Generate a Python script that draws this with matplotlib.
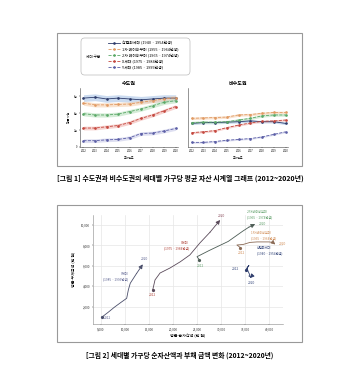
import matplotlib
matplotlib.use('Agg')
import matplotlib.pyplot as plt
from matplotlib.patches import Rectangle, FancyBboxPatch
from matplotlib.lines import Line2D

plt.rcParams['font.family'] = ['Noto Sans CJK KR', 'DejaVu Sans']

# 데이터
years = list(range(2012, 2021))
gen_labels = ['산업화세대 (1940 ~ 1954년생)', '1차 베이비부머 (1955 ~ 1964년생)',
              '2차 베이비부머 (1965 ~ 1974년생)', 'X세대 (1975 ~ 1984년생)',
              'Y세대 (1985 ~ 1995년생)']

# 수도권 평균 자산 (억 원)
cap_industrial = [5.8, 5.9, 5.7, 5.8, 5.7, 5.6, 5.7, 5.8, 5.8]
cap_boomer1 = [5.2, 5.0, 5.0, 5.05, 5.1, 5.3, 5.5, 5.7, 5.85]
cap_boomer2 = [3.95, 3.8, 3.8, 3.9, 4.2, 4.5, 4.9, 5.3, 5.5]
cap_x = [2.25, 2.25, 2.4, 2.55, 2.9, 3.4, 3.8, 4.3, 4.8]
cap_y = [0.75, 0.75, 0.85, 0.9, 1.1, 1.6, 1.65, 1.9, 2.2]
cap_ci = [0.4, 0.25, 0.25, 0.22, 0.22]

# 비수도권 평균 자산 (억 원)
non_industrial = [2.8, 2.9, 2.9, 2.95, 3.0, 3.1, 3.0, 3.0, 2.8]
non_boomer1 = [3.4, 3.45, 3.5, 3.55, 3.8, 3.85, 4.0, 4.1, 4.1]
non_boomer2 = [2.9, 2.95, 2.95, 3.0, 3.2, 3.4, 3.7, 3.8, 3.8]
non_x = [1.7, 1.8, 1.95, 2.3, 2.6, 2.85, 3.05, 3.1, 3.2]
non_y = [0.55, 0.55, 0.65, 0.8, 0.9, 1.0, 1.2, 1.5, 1.8]
non_ci = [0.15, 0.15, 0.15, 0.12, 0.1]

y_ticks = [0, 2, 4, 6]
y_ticklabels = ['0', '2억', '4억', '6억']

# 순자산액 / 부채 (만 원)
net_ind = [35200, 35800, 35400, 35600, 35800, 36000, 35800, 36200, 36000]
debt_ind = [5600, 6050, 5800, 5500, 5300, 5100, 5000, 4900, 4800]
net_b1 = [34000, 33300, 34600, 36000, 37500, 38800, 40000, 40800, 41300]
debt_b1 = [7800, 8050, 8100, 8300, 8350, 8350, 8350, 8300, 8100]
net_b2 = [25500, 25000, 27500, 29500, 31500, 33000, 34500, 35800, 37100]
debt_b2 = [6580, 6900, 7500, 7950, 8400, 8900, 9400, 9800, 10100]
net_x = [15770, 16250, 17300, 19400, 21500, 23500, 25600, 27700, 29800]
debt_x = [3640, 4620, 5300, 5800, 6400, 7070, 8250, 9300, 10500]
net_y = [5150, 6500, 7800, 9100, 10350, 10700, 11100, 12400, 13700]
debt_y = [960, 1450, 1950, 2400, 2820, 3650, 4300, 5250, 6150]

line_colors = ['#2d3c6b', '#e09a63', '#5aa867', '#c4473e', '#5b5ea6']
band_colors = ['#a9c4e6', '#f5cfae', '#b8e0bd', '#f1b5b0', '#c8cbe8']
text_colors = ['#34467a', '#d08a52', '#5d9e68', '#b0453b', '#5b6190']

W, H = 360, 390
fig = plt.figure(figsize=(3.6, 3.9), dpi=100)


def fx(px):
    return px / W


def fy(py):
    return 1 - py / H


# 패널 테두리
for top, bottom in [(33, 166), (205, 342)]:
    fig.patches.append(Rectangle((fx(57), fy(bottom)), fx(302) - fx(57), fy(top) - fy(bottom),
                                 transform=fig.transFigure, fill=False,
                                 edgecolor='#999999', lw=0.8))

# ---------- 그림 1 ----------
ax1 = fig.add_axes([fx(80), fy(147), fx(178) - fx(80), fy(88) - fy(147)])
ax2 = fig.add_axes([fx(188), fy(147), fx(288) - fx(188), fy(88) - fy(147)], sharey=ax1)

cap_series = [cap_industrial, cap_boomer1, cap_boomer2, cap_x, cap_y]
non_series = [non_industrial, non_boomer1, non_boomer2, non_x, non_y]

for ax, series, ci, title in [(ax1, cap_series, cap_ci, '수도권'),
                              (ax2, non_series, non_ci, '비수도권')]:
    for i, vals in enumerate(series):
        lo = [v - ci[i] for v in vals]
        hi = [v + ci[i] for v in vals]
        ax.fill_between(years, lo, hi, color=band_colors[i], alpha=0.6, lw=0)
        ls = '-' if i == 0 else '--'
        ax.plot(years, vals, ls, color=line_colors[i], lw=0.6, marker='o', ms=0.9)
    ax.set_xlim(2011.7, 2020.2)
    ax.set_ylim(0, 7)
    ax.set_xticks(years)
    ax.tick_params(labelsize=1.8, length=0.8, width=0.3, pad=1)
    ax.set_title(title, fontsize=3.6, fontweight='bold', pad=2)
    ax.set_xlabel('조사연도', fontsize=2.1, labelpad=1.5)
    for s in ['top', 'right']:
        ax.spines[s].set_visible(False)
    for s in ['left', 'bottom']:
        ax.spines[s].set_linewidth(0.4)
        ax.spines[s].set_color('#444444')

ax1.set_yticks(y_ticks)
ax1.set_yticklabels(y_ticklabels)
ax1.set_ylabel('평균 자산', fontsize=2.1, labelpad=2)
ax2.tick_params(axis='y', labelleft=False, length=0)

# 범례
fig.patches.append(FancyBboxPatch((fx(81), fy(75)), fx(190) - fx(81), fy(38) - fy(75),
                                  boxstyle='round,pad=0,rounding_size=0.01',
                                  transform=fig.transFigure, fill=False,
                                  edgecolor='#bbbbbb', lw=0.5))
fig.text(fx(86), fy(56.5), '세대 구분', fontsize=2.6, va='center', ha='left')
handles = [Line2D([], [], color=line_colors[i], lw=0.6, ls='-' if i == 0 else '--',
                  marker='o', ms=0.9) for i in range(5)]
fig.legend(handles, gen_labels, loc='upper left', bbox_to_anchor=(fx(108), fy(40.5)),
           fontsize=2.8, frameon=False, labelspacing=0.55, handlelength=3.0,
           handletextpad=0.5, borderpad=0, borderaxespad=0)

fig.text(0.5, fy(178.5), '[그림 1] 수도권과 비수도권의 세대별 가구당 평균 자산 시계열 그래프 (2012~2020년)',
         fontsize=5.0, fontweight='bold', ha='center', va='center')

# ---------- 그림 2 ----------
ax3 = fig.add_axes([fx(93.3), fy(324), fx(283) - fx(93.3), fy(215) - fy(324)])
net_series = [net_ind, net_b1, net_b2, net_x, net_y]
debt_series = [debt_ind, debt_b1, debt_b2, debt_x, debt_y]
path_colors = ['#2d3c6b', '#8a6a55', '#4c5c55', '#5a4a5a', '#4a4e6a']

for i in range(5):
    xs, ys = net_series[i], debt_series[i]
    ax3.plot(xs[:-1], ys[:-1], color=path_colors[i], lw=0.6)
    ax3.plot(xs[0], ys[0], 'o', color=path_colors[i], ms=1.3)
    ax3.annotate('', xy=(xs[-1], ys[-1]), xytext=(xs[-2], ys[-2]),
                 arrowprops=dict(arrowstyle='-|>,head_length=0.6,head_width=0.3',
                                 mutation_scale=4, color=path_colors[i], lw=0.6,
                                 shrinkA=0, shrinkB=0))

ax3.set_xlim(3400, 42900)
ax3.set_ylim(300, 10990)
ax3.set_xticks(range(5000, 40001, 5000))
ax3.set_yticks(range(2000, 10001, 2000))
ax3.xaxis.set_major_formatter(matplotlib.ticker.StrMethodFormatter('{x:,.0f}'))
ax3.yaxis.set_major_formatter(matplotlib.ticker.StrMethodFormatter('{x:,.0f}'))
ax3.tick_params(labelsize=2.2, length=0.8, width=0.3, pad=1.5, colors='#333333')
ax3.grid(color='#e6e6e6', lw=0.5)
ax3.set_axisbelow(True)
for s in ['top', 'right']:
    ax3.spines[s].set_visible(False)
for s in ['left', 'bottom']:
    ax3.spines[s].set_linewidth(0.4)
    ax3.spines[s].set_color('#888888')
ax3.set_xlabel('평균 순자산액 (만 원)', fontsize=2.9, labelpad=2)
ax3.set_ylabel('평균 부채금액 (만 원)', fontsize=2.9, labelpad=4)

lab_fs = 2.3
# 세대 라벨
ax3.text(10625, 4960, 'Y세대\n(1985 ~ 1995년생)', color=text_colors[4], fontsize=lab_fs,
         ha='right', va='center', multialignment='right', linespacing=1.3)
ax3.text(5600, 890, '2012', color=text_colors[4], fontsize=lab_fs, ha='left', va='center')
ax3.text(13960, 6680, '2020', color=text_colors[4], fontsize=lab_fs, ha='center', va='center')

ax3.text(23330, 7970, 'X세대\n(1975 ~ 1984년생)', color=text_colors[3], fontsize=lab_fs,
         ha='right', va='center', multialignment='right', linespacing=1.3)
ax3.text(15770, 3150, '2012', color=text_colors[3], fontsize=lab_fs, ha='center', va='center')
ax3.text(30150, 10900, '2020', color='#8a4a5a', fontsize=lab_fs, ha='center', va='center')

ax3.text(35350, 11020, '2차 베이비부머\n(1965 ~ 1974년생)', color=text_colors[2], fontsize=lab_fs,
         ha='left', va='center', linespacing=1.3)
ax3.text(37900, 10110, '2020', color=text_colors[2], fontsize=lab_fs, ha='left', va='center')
ax3.text(25770, 5990, '2012', color=text_colors[2], fontsize=lab_fs, ha='center', va='center')

ax3.text(36190, 8980, '1차 베이비부머\n(1955 ~ 1964년생)', color=text_colors[1], fontsize=lab_fs,
         ha='left', va='center', linespacing=1.3)
ax3.text(42850, 8150, '2020', color=text_colors[1], fontsize=lab_fs, ha='center', va='center')
ax3.text(34310, 7290, '2012', color=text_colors[1], fontsize=lab_fs, ha='center', va='center')

ax3.text(37430, 7480, '산업화세대\n(1940 ~ 1954년생)', color=text_colors[0], fontsize=lab_fs,
         ha='left', va='center', linespacing=1.3)
ax3.text(32920, 5670, '2012', color=text_colors[0], fontsize=lab_fs, ha='center', va='center')
ax3.text(36400, 4290, '2020', color=text_colors[0], fontsize=lab_fs, ha='center', va='center')

fig.text(0.5, fy(355), '[그림 2] 세대별 가구당 순자산액과 부채 금액 변화 (2012~2020년)',
         fontsize=4.9, fontweight='bold', ha='center', va='center')

fig.savefig('out.png', dpi=100)
